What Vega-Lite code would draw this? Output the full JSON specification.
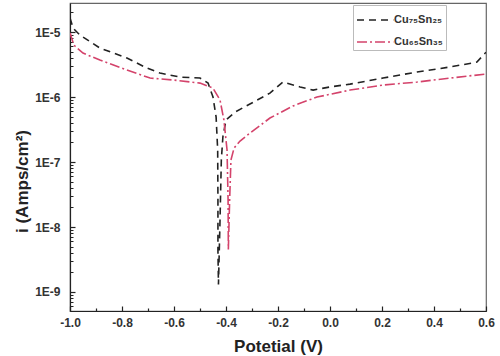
{
  "$schema": "https://vega.github.io/schema/vega-lite/v6.json",
  "width": 416,
  "height": 308,
  "autosize": "none",
  "padding": {"left": 70, "top": 3, "right": 14, "bottom": 45},
  "background": "white",
  "config": {
    "font": "Liberation Sans",
    "view": {"stroke": "#666", "strokeWidth": 1.2}
  },
  "data": {
    "values": [
      {"s": "Cu₇₅Sn₂₅", "k": 1, "v": -1.0, "i": 1.64e-5},
      {"s": "Cu₇₅Sn₂₅", "k": 2, "v": -0.988, "i": 1.15e-5},
      {"s": "Cu₇₅Sn₂₅", "k": 3, "v": -0.962, "i": 9.0e-6},
      {"s": "Cu₇₅Sn₂₅", "k": 4, "v": -0.885, "i": 5.68e-6},
      {"s": "Cu₇₅Sn₂₅", "k": 5, "v": -0.781, "i": 3.98e-6},
      {"s": "Cu₇₅Sn₂₅", "k": 6, "v": -0.704, "i": 2.79e-6},
      {"s": "Cu₇₅Sn₂₅", "k": 7, "v": -0.654, "i": 2.34e-6},
      {"s": "Cu₇₅Sn₂₅", "k": 8, "v": -0.577, "i": 2.03e-6},
      {"s": "Cu₇₅Sn₂₅", "k": 9, "v": -0.5, "i": 1.96e-6},
      {"s": "Cu₇₅Sn₂₅", "k": 10, "v": -0.469, "i": 1.64e-6},
      {"s": "Cu₇₅Sn₂₅", "k": 11, "v": -0.45, "i": 1.0e-6},
      {"s": "Cu₇₅Sn₂₅", "k": 12, "v": -0.438, "i": 4.9e-7},
      {"s": "Cu₇₅Sn₂₅", "k": 13, "v": -0.432, "i": 1.53e-7},
      {"s": "Cu₇₅Sn₂₅", "k": 14, "v": -0.431, "i": 2.6e-8},
      {"s": "Cu₇₅Sn₂₅", "k": 15, "v": -0.431, "i": 4.4e-9},
      {"s": "Cu₇₅Sn₂₅", "k": 16, "v": -0.429, "i": 1.3e-9},
      {"s": "Cu₇₅Sn₂₅", "k": 17, "v": -0.423, "i": 1.28e-8},
      {"s": "Cu₇₅Sn₂₅", "k": 18, "v": -0.418, "i": 1.07e-7},
      {"s": "Cu₇₅Sn₂₅", "k": 19, "v": -0.412, "i": 2.43e-7},
      {"s": "Cu₇₅Sn₂₅", "k": 20, "v": -0.4, "i": 4.43e-7},
      {"s": "Cu₇₅Sn₂₅", "k": 21, "v": -0.365, "i": 5.88e-7},
      {"s": "Cu₇₅Sn₂₅", "k": 22, "v": -0.308, "i": 7.8e-7},
      {"s": "Cu₇₅Sn₂₅", "k": 23, "v": -0.231, "i": 1.15e-6},
      {"s": "Cu₇₅Sn₂₅", "k": 24, "v": -0.181, "i": 1.7e-6},
      {"s": "Cu₇₅Sn₂₅", "k": 25, "v": -0.115, "i": 1.43e-6},
      {"s": "Cu₇₅Sn₂₅", "k": 26, "v": -0.065, "i": 1.28e-6},
      {"s": "Cu₇₅Sn₂₅", "k": 27, "v": 0.0, "i": 1.43e-6},
      {"s": "Cu₇₅Sn₂₅", "k": 28, "v": 0.077, "i": 1.58e-6},
      {"s": "Cu₇₅Sn₂₅", "k": 29, "v": 0.204, "i": 1.96e-6},
      {"s": "Cu₇₅Sn₂₅", "k": 30, "v": 0.335, "i": 2.43e-6},
      {"s": "Cu₇₅Sn₂₅", "k": 31, "v": 0.462, "i": 2.9e-6},
      {"s": "Cu₇₅Sn₂₅", "k": 32, "v": 0.565, "i": 3.45e-6},
      {"s": "Cu₇₅Sn₂₅", "k": 33, "v": 0.6, "i": 4.9e-6},
      {"s": "Cu₆₅Sn₃₅", "k": 1, "v": -1.0, "i": 9.7e-6},
      {"s": "Cu₆₅Sn₃₅", "k": 2, "v": -0.985, "i": 6.3e-6},
      {"s": "Cu₆₅Sn₃₅", "k": 3, "v": -0.95, "i": 4.75e-6},
      {"s": "Cu₆₅Sn₃₅", "k": 4, "v": -0.885, "i": 3.71e-6},
      {"s": "Cu₆₅Sn₃₅", "k": 5, "v": -0.781, "i": 2.6e-6},
      {"s": "Cu₆₅Sn₃₅", "k": 6, "v": -0.692, "i": 1.96e-6},
      {"s": "Cu₆₅Sn₃₅", "k": 7, "v": -0.604, "i": 1.83e-6},
      {"s": "Cu₆₅Sn₃₅", "k": 8, "v": -0.5, "i": 1.64e-6},
      {"s": "Cu₆₅Sn₃₅", "k": 9, "v": -0.45, "i": 1.37e-6},
      {"s": "Cu₆₅Sn₃₅", "k": 10, "v": -0.423, "i": 9.0e-7},
      {"s": "Cu₆₅Sn₃₅", "k": 11, "v": -0.408, "i": 4.43e-7},
      {"s": "Cu₆₅Sn₃₅", "k": 12, "v": -0.396, "i": 1.53e-7},
      {"s": "Cu₆₅Sn₃₅", "k": 13, "v": -0.392, "i": 2.6e-8},
      {"s": "Cu₆₅Sn₃₅", "k": 14, "v": -0.391, "i": 4.5e-9},
      {"s": "Cu₆₅Sn₃₅", "k": 15, "v": -0.386, "i": 2.6e-8},
      {"s": "Cu₆₅Sn₃₅", "k": 16, "v": -0.381, "i": 1.07e-7},
      {"s": "Cu₆₅Sn₃₅", "k": 17, "v": -0.369, "i": 1.64e-7},
      {"s": "Cu₆₅Sn₃₅", "k": 18, "v": -0.346, "i": 2.1e-7},
      {"s": "Cu₆₅Sn₃₅", "k": 19, "v": -0.308, "i": 2.79e-7},
      {"s": "Cu₆₅Sn₃₅", "k": 20, "v": -0.231, "i": 4.75e-7},
      {"s": "Cu₆₅Sn₃₅", "k": 21, "v": -0.142, "i": 7.3e-7},
      {"s": "Cu₆₅Sn₃₅", "k": 22, "v": -0.05, "i": 1.0e-6},
      {"s": "Cu₆₅Sn₃₅", "k": 23, "v": 0.077, "i": 1.28e-6},
      {"s": "Cu₆₅Sn₃₅", "k": 24, "v": 0.204, "i": 1.53e-6},
      {"s": "Cu₆₅Sn₃₅", "k": 25, "v": 0.335, "i": 1.7e-6},
      {"s": "Cu₆₅Sn₃₅", "k": 26, "v": 0.462, "i": 1.96e-6},
      {"s": "Cu₆₅Sn₃₅", "k": 27, "v": 0.6, "i": 2.26e-6}
    ]
  },
  "layer": [
    {
      "mark": {"type": "line", "strokeWidth": 1.6, "clip": true},
      "encoding": {
        "x": {
          "field": "v", "type": "quantitative",
          "scale": {"domain": [-1.0, 0.6], "nice": false, "zero": false},
          "axis": {
            "values": [-1.0, -0.8, -0.6, -0.4, -0.2, 0, 0.2, 0.4, 0.6],
            "labelExpr": "(datum.value < -0.0001 ? '-' : '') + format(abs(datum.value), '.1f')",
            "grid": false, "domainColor": "#222", "domainWidth": 1.2,
            "tickColor": "#222", "tickSize": -5, "tickWidth": 1.2,
            "labelPadding": 11, "labelFontSize": 12, "labelFontWeight": "bold", "labelColor": "#333",
            "labelFlush": false,
            "title": "Potetial (V)", "titleFontSize": 17, "titleFontWeight": "bold", "titleColor": "#222",
            "titleY": 35, "titleBaseline": "middle"
          }
        },
        "y": {
          "field": "i", "type": "quantitative",
          "scale": {"type": "log", "domain": [5.1e-10, 2.8e-5], "nice": false},
          "axis": {
            "values": [1e-9, 1e-8, 1e-7, 1e-6, 1e-5],
            "labelExpr": "'1E' + round(log(datum.value) / LN10)",
            "grid": false, "domainColor": "#222", "domainWidth": 1.2,
            "tickColor": "#222", "tickSize": -5, "tickWidth": 1.2,
            "labelPadding": 15, "labelFontSize": 12, "labelFontWeight": "bold", "labelColor": "#333",
            "title": "i (Amps/cm²)", "titleFontSize": 17, "titleFontWeight": "bold", "titleColor": "#222",
            "titleX": -48, "titleY": 178, "titleBaseline": "middle", "titleAngle": 270
          }
        },
        "color": {
          "field": "s", "type": "nominal",
          "scale": {"domain": ["Cu₇₅Sn₂₅", "Cu₆₅Sn₃₅"], "range": ["#222222", "#d4436b"]},
          "legend": {
            "title": null, "orient": "none", "legendX": 283, "legendY": 2,
            "strokeColor": "#bbb", "fillColor": "white", "padding": 3,
            "symbolType": "M-1,0H2.3", "symbolSize": 484, "symbolStrokeWidth": 1.6,
            "rowPadding": 5, "labelOffset": 14,
            "labelFontSize": 11, "labelFontWeight": "bold", "labelColor": "#333"
          }
        },
        "strokeDash": {
          "field": "s", "type": "nominal",
          "scale": {"domain": ["Cu₇₅Sn₂₅", "Cu₆₅Sn₃₅"], "range": [[7, 5], [10, 3, 2, 3]]},
          "legend": {
            "title": null, "orient": "none", "legendX": 283, "legendY": 2,
            "strokeColor": "#bbb", "fillColor": "white", "padding": 3,
            "symbolType": "M-1,0H2.3", "symbolSize": 484, "symbolStrokeWidth": 1.6,
            "rowPadding": 5, "labelOffset": 14,
            "labelFontSize": 11, "labelFontWeight": "bold", "labelColor": "#333"
          }
        },
        "order": {"field": "k", "type": "quantitative"}
      }
    },
    {
      "mark": {"type": "line", "opacity": 0},
      "encoding": {
        "x": {
          "field": "v", "type": "quantitative",
          "axis": {
            "orient": "bottom", "values": [-0.9, -0.7, -0.5, -0.3, -0.1, 0.1, 0.3, 0.5],
            "labels": false, "domain": false, "grid": false, "title": null,
            "tickColor": "#222", "tickSize": -3, "tickWidth": 1.2
          }
        },
        "y": {
          "field": "i", "type": "quantitative",
          "axis": {
            "orient": "left",
            "values": [6e-10, 7e-10, 8e-10, 9e-10, 2e-9, 3e-9, 4e-9, 5e-9, 6e-9, 7e-9, 8e-9, 9e-9, 2e-8, 3e-8, 4e-8, 5e-8, 6e-8, 7e-8, 8e-8, 9e-8, 2e-7, 3e-7, 4e-7, 5e-7, 6e-7, 7e-7, 8e-7, 9e-7, 2e-6, 3e-6, 4e-6, 5e-6, 6e-6, 7e-6, 8e-6, 9e-6, 2e-5],
            "labels": false, "domain": false, "grid": false, "title": null,
            "tickColor": "#222", "tickSize": -3, "tickWidth": 1
          }
        },
        "order": {"field": "k", "type": "quantitative"}
      }
    }
  ],
  "resolve": {"axis": {"x": "independent", "y": "independent"}}
}
